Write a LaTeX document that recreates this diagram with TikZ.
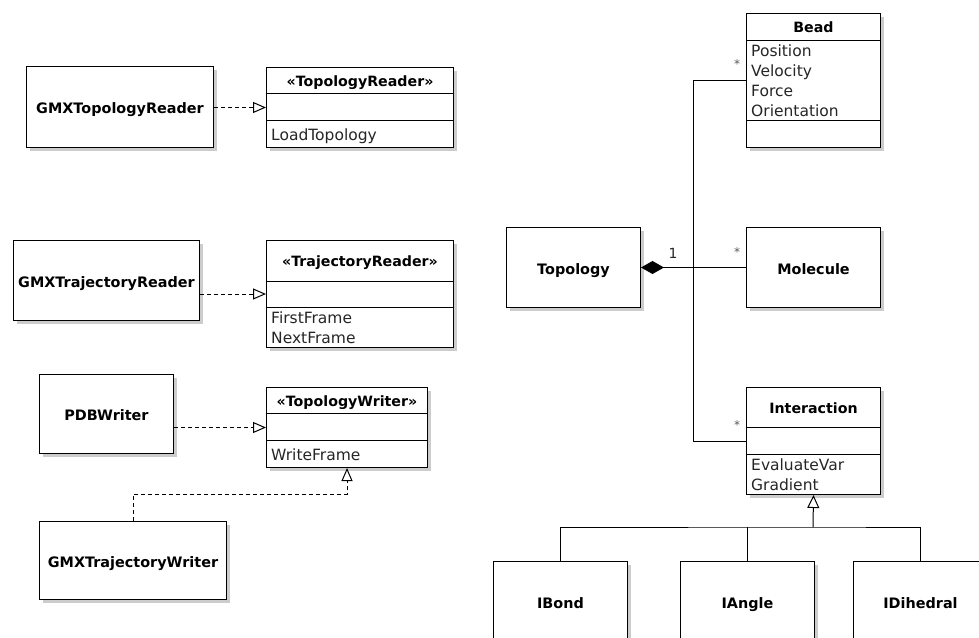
\documentclass[tikz,border=0pt]{standalone}
\usepackage{fontspec}
\setmainfont{DejaVu Sans}
\usetikzlibrary{arrows.meta,shadows,calc}

\begin{document}
\begin{tikzpicture}[x=1pt,y=-1pt,
  boxshadow/.style={drop shadow={shadow xshift=3pt,shadow yshift=-3pt,fill=black!20,opacity=1}},
  umlbox/.style={draw,line width=1pt,fill=white,boxshadow,anchor=north west,inner sep=0pt,
    font=\bfseries\fontsize{14.4}{16}\selectfont,text height=13pt,text depth=0pt},
  sep/.style={line width=1pt},
  hdr/.style={anchor=base,inner sep=0pt,font=\bfseries\fontsize{14.2}{16}\selectfont},
  attr/.style={anchor=base west,inner sep=0pt,font=\fontsize{15.5}{17}\selectfont,text=black!85},
  mult/.style={anchor=base,inner sep=0pt,font=\fontsize{12}{13}\selectfont,text=black!65},
  realize/.style={line width=1pt,dash pattern=on 4pt off 3pt,
    -{Triangle[length=13pt,width=11pt,fill=white]}},
  inherit/.style={line width=1pt,-{Triangle[length=13pt,width=12pt,fill=white]}},
  compose/.style={line width=1pt,{Diamond[length=23pt,width=13pt]}-},
  assoc/.style={line width=1pt}
]
\useasboundingbox (0,0) rectangle (979,637);
\fill[white] (0,0) rectangle (979,637);
\clip (0,0) rectangle (979,637);

% ---------- reader / writer interfaces ----------
\node[umlbox,minimum width=187pt,minimum height=81pt] (gtr) at (26,66) {GMXTopologyReader};
\node[umlbox,minimum width=187pt,minimum height=80pt] (tr) at (266,67) {};
\draw[sep] ($(tr.north west)+(0,26)$) -- ($(tr.north east)+(0,26)$);
\draw[sep] ($(tr.north west)+(0,53)$) -- ($(tr.north east)+(0,53)$);
\node[hdr] (trh) at ($(tr.north)+(0,19)$) {«TopologyReader»};
\node[attr] (tro1) at ($(tr.north west)+(5,73)$) {LoadTopology};

\node[umlbox,minimum width=186pt,minimum height=80pt] (gtrr) at (13,240) {GMXTrajectoryReader};
\node[umlbox,minimum width=187pt,minimum height=107pt] (trr) at (266,240) {};
\draw[sep] ($(trr.north west)+(0,41)$) -- ($(trr.north east)+(0,41)$);
\draw[sep] ($(trr.north west)+(0,67)$) -- ($(trr.north east)+(0,67)$);
\node[hdr] (trrh) at ($(trr.north)+(0,26.5)$) {«TrajectoryReader»};
\node[attr] (trro1) at ($(trr.north west)+(5,83)$) {FirstFrame};
\node[attr] (trro2) at ($(trr.north west)+(5,103)$) {NextFrame};

\node[umlbox,minimum width=134pt,minimum height=79pt] (pdb) at (39,374) {PDBWriter};
\node[umlbox,minimum width=161pt,minimum height=80pt] (tw) at (266,387) {};
\draw[sep] ($(tw.north west)+(0,26)$) -- ($(tw.north east)+(0,26)$);
\draw[sep] ($(tw.north west)+(0,53)$) -- ($(tw.north east)+(0,53)$);
\node[hdr] (twh) at ($(tw.north)+(0,19)$) {«TopologyWriter»};
\node[attr] (two1) at ($(tw.north west)+(5,73)$) {WriteFrame};

\node[umlbox,minimum width=187pt,minimum height=78pt] (gtw) at (39,521) {GMXTrajectoryWriter};

\draw[realize] (tr.west -| gtr.east) -- (tr.west);
\draw[realize] (trr.west -| gtrr.east) -- (trr.west);
\draw[realize] (tw.west -| pdb.east) -- (tw.west);
\draw[realize] (gtw.north) -- (gtw.north |- 0,494) -| (tw.south);

% ---------- topology model ----------
\node[umlbox,minimum width=134pt,minimum height=134pt] (bead) at (746,13) {};
\draw[sep] ($(bead.north west)+(0,27)$) -- ($(bead.north east)+(0,27)$);
\draw[sep] ($(bead.north west)+(0,107)$) -- ($(bead.north east)+(0,107)$);
\node[hdr] (beadh) at ($(bead.north)+(0,19.5)$) {Bead};
\node[attr] (beada1) at ($(bead.north west)+(5,43)$) {Position};
\node[attr] (beada2) at ($(bead.north west)+(5,63)$) {Velocity};
\node[attr] (beada3) at ($(bead.north west)+(5,83)$) {Force};
\node[attr] (beada4) at ($(bead.north west)+(5,103)$) {Orientation};

\node[umlbox,minimum width=134pt,minimum height=80pt] (topo) at (506,227) {Topology};
\node[umlbox,minimum width=134pt,minimum height=80pt] (mol) at (746,227) {Molecule};

\node[umlbox,minimum width=134pt,minimum height=107pt] (inter) at (746,387) {};
\draw[sep] ($(inter.north west)+(0,40)$) -- ($(inter.north east)+(0,40)$);
\draw[sep] ($(inter.north west)+(0,67)$) -- ($(inter.north east)+(0,67)$);
\node[hdr] (interh) at ($(inter.north)+(0,26)$) {Interaction};
\node[attr] (intero1) at ($(inter.north west)+(5,83)$) {EvaluateVar};
\node[attr] (intero2) at ($(inter.north west)+(5,103)$) {Gradient};

\node[umlbox,minimum width=134pt,minimum height=80pt] (ibond) at (493,561) {IBond};
\node[umlbox,minimum width=134pt,minimum height=80pt] (iangle) at (680,561) {IAngle};
\node[umlbox,minimum width=134pt,minimum height=80pt] (idih) at (853,561) {IDihedral};

% composition: Topology owns beads, molecules and interactions
\coordinate (junc) at (693,267);
\draw[compose] (topo.east) -- (mol.west);
\draw[assoc] (bead.west) -| (junc) |- (inter.west);
\node[mult] (m1) at ($(topo.east)+(32,-9)$) {\fontsize{14}{15}\selectfont\color{black!85}1};
\node[mult] (mb) at ($(bead.west)+(-9,-12)$) {*};
\node[mult] (mm) at ($(mol.west)+(-9,-11)$) {*};
\node[mult] (mi) at ($(inter.west)+(-9,-11.5)$) {*};

% inheritance of the interaction types
\coordinate (bus) at (813,527);
\draw[line width=1pt] (ibond.north) |- (bus) -| (idih.north);
\draw[line width=1pt] (iangle.north) -- (iangle.north |- bus);
\draw[inherit] (bus) -- (inter.south);
\end{tikzpicture}
\end{document}
